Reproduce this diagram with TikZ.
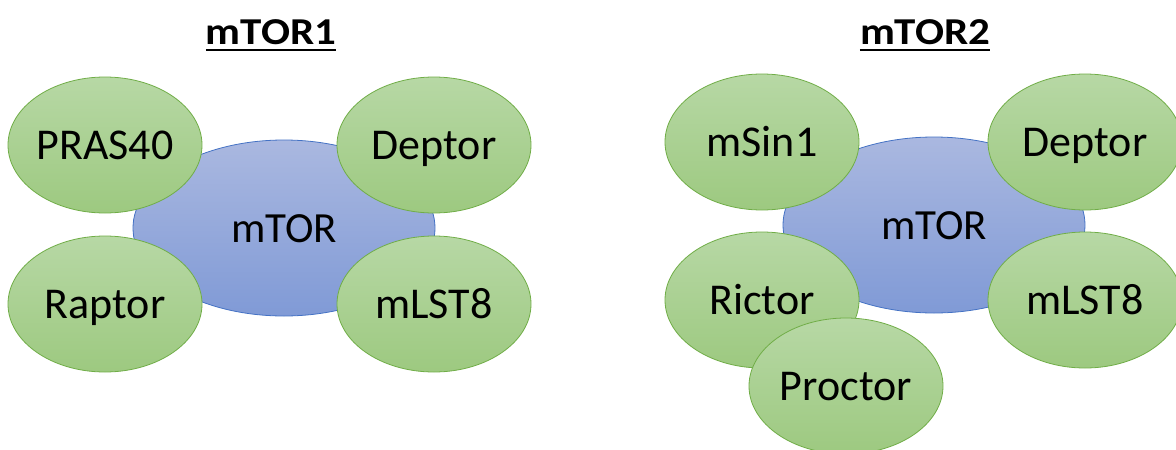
\documentclass[tikz,border=0pt]{standalone}
\usepackage{fontspec}
\setmainfont{Carlito}
\usetikzlibrary{shapes.geometric}
\definecolor{gfillA}{RGB}{183,216,165}
\definecolor{gfillB}{RGB}{157,201,128}
\definecolor{gline}{RGB}{112,173,71}
\definecolor{bfillA}{RGB}{170,184,224}
\definecolor{bfillB}{RGB}{128,154,214}
\definecolor{bline}{RGB}{68,114,196}
\tikzset{
  sub/.style={ellipse, draw=gline, line width=0.8pt, top color=gfillA, bottom color=gfillB,
    minimum width=194pt, minimum height=136pt, inner sep=0pt,
    text height=28pt, text depth=0pt, font=\fontsize{44}{52}\selectfont},
  core/.style={ellipse, draw=bline, line width=0.8pt, top color=bfillA, bottom color=bfillB,
    minimum width=302pt, minimum height=176pt, inner sep=0pt,
    text height=28pt, text depth=0pt, font=\fontsize{43}{52}\selectfont},
  heading/.style={inner sep=0pt, anchor=base, font=\fontsize{38}{42}\selectfont\bfseries},
  uline/.style={line width=2.3pt}
}
\begin{document}
\begin{tikzpicture}[x=1pt,y=-1pt]
\useasboundingbox (0,0) rectangle (1176,450);
% titles
\node[heading] (t1) at (271,44) {\scalebox{1.13}[1]{mTOR1}};
\node[heading] (t2) at (925,44) {\scalebox{1.13}[1]{mTOR2}};
\draw[uline] ([yshift=-6pt]t1.base west) -- ([yshift=-6pt]t1.base east);
\draw[uline] ([yshift=-6pt]t2.base west) -- ([yshift=-6pt]t2.base east);
% mTOR1 complex
\node[core] (c1) at (284,228) {mTOR};
\node[sub] (pras) at (105,145) {PRAS40};
\node[sub] (dep1) at (434,145) {Deptor};
\node[sub] (rap) at (105,304) {Raptor};
\node[sub] (mls1) at (434,304) {mLST8};
% mTOR2 complex
\node[core] (c2) at (934,225) {mTOR};
\node[sub] (msin) at (762,142) {mSin1};
\node[sub] (dep2) at (1085,142) {Deptor};
\node[sub] (mls2) at (1085,300) {mLST8};
\node[sub] (ric) at (762,300) {Rictor};
\node[sub] (pro) at (846,386) {Proctor};
\end{tikzpicture}
\end{document}
